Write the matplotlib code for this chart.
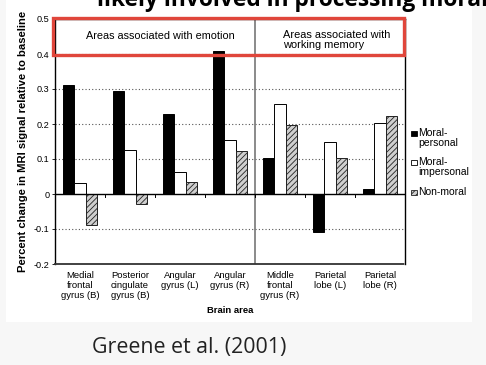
import matplotlib
matplotlib.use("Agg")
import matplotlib.pyplot as plt
from matplotlib.patches import Rectangle
import numpy as np

categories = ["Medial\nfrontal\ngyrus (B)", "Posterior\ncingulate\ngyrus (B)",
              "Angular\ngyrus (L)", "Angular\ngyrus (R)", "Middle\nfrontal\ngyrus (R)",
              "Parietal\nlobe (L)", "Parietal\nlobe (R)"]
moral_personal = [0.311, 0.294, 0.230, 0.410, 0.104, -0.109, 0.015]
moral_impersonal = [0.032, 0.126, 0.062, 0.154, 0.257, 0.148, 0.204]
non_moral = [-0.089, -0.028, 0.033, 0.122, 0.198, 0.103, 0.223]
series_names = ["Moral-\npersonal", "Moral-\nimpersonal", "Non-moral"]
yticks = [-0.2, -0.1, 0, 0.1, 0.2, 0.3, 0.4, 0.5]
ytick_labels = ["-0.2", "-0.1", "0", "0.1", "0.2", "0.3", "0.4", "0.5"]
header_left = "Areas associated with emotion"
header_right = "Areas associated with\nworking memory"

plt.rcParams['font.family'] = ['Liberation Sans', 'DejaVu Sans']
plt.rcParams['hatch.linewidth'] = 0.6

W, H = 486, 365
fig = plt.figure(figsize=(W / 100, H / 100), dpi=100, facecolor='#f7f7f7')

# white image panel
fig.patches.append(Rectangle((6 / W, 1 - 322 / H), (472 - 6) / W, 322 / H,
                             transform=fig.transFigure, facecolor='white',
                             edgecolor='none', zorder=-5))

ax = fig.add_axes([55 / W, 1 - 264 / H, 350 / W, 245 / H])
ax.set_zorder(2)
ax.set_facecolor('white')
x = np.arange(len(categories))
bw = 0.227
styles = [dict(facecolor='black', edgecolor='black'),
          dict(facecolor='white', edgecolor='black'),
          dict(facecolor='#cfcfcf', edgecolor='#222222', hatch='//////')]
for k, (vals, st) in enumerate(zip([moral_personal, moral_impersonal, non_moral], styles)):
    ax.bar(x + (k - 1) * bw, vals, width=bw, linewidth=0.7, zorder=3, **st)

ax.set_xlim(-0.5, len(categories) - 0.5)
ax.set_ylim(-0.2, 0.5)
ax.set_yticks(yticks)
ax.set_yticklabels(ytick_labels, fontsize=6.6)
ax.tick_params(axis='y', length=2, width=0.6, pad=2)
ax.set_xticks(x)
ax.set_xticklabels(categories, fontsize=6.8, linespacing=1.18)
ax.tick_params(axis='x', length=0, pad=5)
ax.set_xlabel("Brain area", fontsize=6.8, fontweight='bold', labelpad=4)
ax.set_ylabel("Percent change in MRI signal relative to baseline", fontsize=8.1,
              fontweight='bold', labelpad=4)

for yv in yticks:
    if yv not in (0, -0.2, 0.5):
        ax.axhline(yv, color='#555555', linestyle=(0, (1, 2)), linewidth=0.8, zorder=1)
ax.axhline(0, color='black', linewidth=1.0, zorder=4)
# small ticks on the zero line at category boundaries
for b in x[1:] - 0.5:
    ax.plot([b, b], [0, -0.008], color='black', linewidth=0.7, zorder=4)

ax.axvline(3.5, color='#777777', linewidth=1.2, zorder=2)

for s in ['left', 'right', 'top']:
    ax.spines[s].set_color('black')
    ax.spines[s].set_linewidth(1.0)
ax.spines['bottom'].set_linestyle((0, (1, 1)))
ax.spines['bottom'].set_color('#333333')
ax.spines['bottom'].set_linewidth(1.3)

# header texts
ax.text(1.6, 0.452, header_left, ha='center', va='center', fontsize=7.8, zorder=5)
ax.text(4.06, 0.44, header_right, ha='left', va='center',
        fontsize=7.9, linespacing=1.1, zorder=5)

# red highlight box
ax.add_patch(Rectangle((-0.006, 0.852), 1.003, 0.152, transform=ax.transAxes,
                       fill=False, edgecolor='#e0463b', linewidth=2.4,
                       clip_on=False, zorder=6))

# legend (manual, square aligned with first text line)
leg_y = [133, 162, 192]
for name, st, yy in zip(series_names, styles, leg_y):
    fig.patches.append(Rectangle((411 / W, 1 - (yy + 3) / H), 5.5 / W, 5.5 / H,
                                 transform=fig.transFigure, linewidth=0.6,
                                 zorder=5, **st))
    fig.text(418 / W, 1 - (yy - 5) / H, name, ha='left', va='top', fontsize=7.5,
             linespacing=1.05)

# title (clipped at top) and caption
fig.text(97 / W, 1 - 6 / H, "likely involved in processing moral reasoning",
         fontsize=16.4, fontweight='bold', family=['Open Sans', 'DejaVu Sans'],
         ha='left', va='baseline', color='black')
fig.text(189 / W, 1 - 348 / H, "Greene et al. (2001)", fontsize=15.4,
         family=['Open Sans', 'DejaVu Sans'], ha='center', va='center', color='#222222')

fig.savefig("out.png", dpi=100, facecolor=fig.get_facecolor())
